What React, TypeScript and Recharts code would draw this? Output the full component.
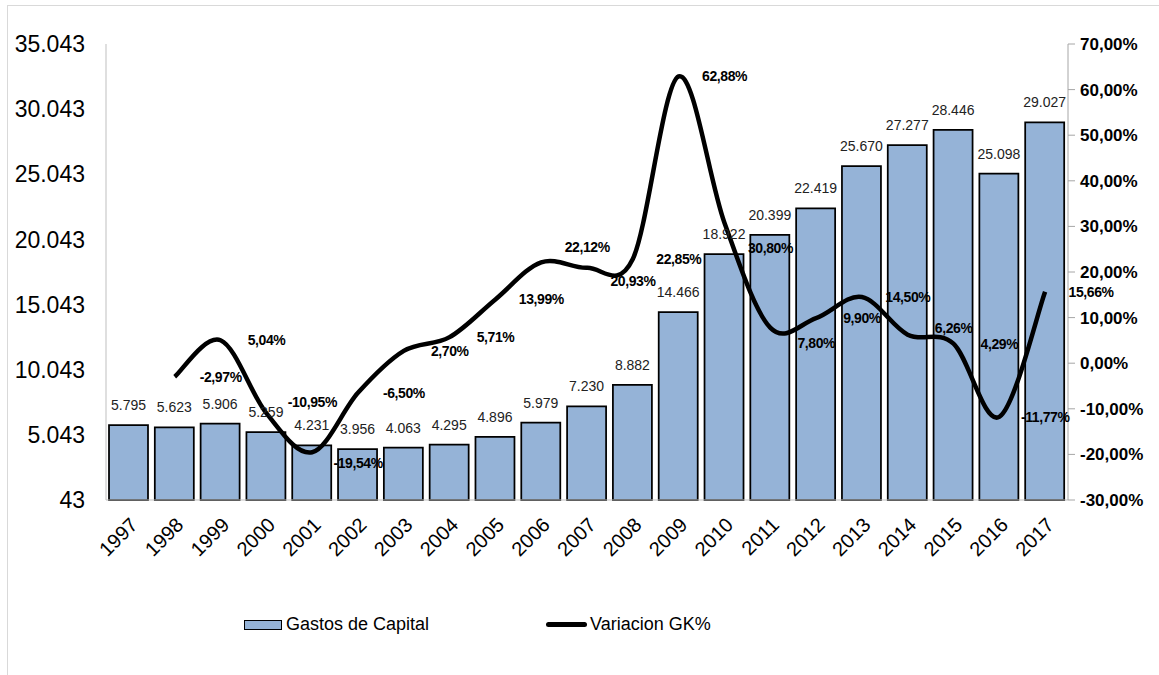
import { ComposedChart, Bar, Line, XAxis, YAxis, LabelList } from 'recharts';

// Serie histórica de Gastos de Capital y su variación interanual
const years = ['1997', '1998', '1999', '2000', '2001', '2002', '2003', '2004', '2005', '2006', '2007',
  '2008', '2009', '2010', '2011', '2012', '2013', '2014', '2015', '2016', '2017'];
const gastos = [5795, 5623, 5906, 5259, 4231, 3956, 4063, 4295, 4896, 5979, 7230,
  8882, 14466, 18922, 20399, 22419, 25670, 27277, 28446, 25098, 29027];
const variacion = [null, -2.97, 5.04, -10.95, -19.54, -6.5, 2.7, 5.71, 13.99, 22.12, 20.93,
  22.85, 62.88, 30.8, 7.8, 9.9, 14.5, 6.26, 4.29, -11.77, 15.66];
const leftTicks = [43, 5043, 10043, 15043, 20043, 25043, 30043, 35043];
const rightTicks = [-30, -20, -10, 0, 10, 20, 30, 40, 50, 60, 70];

// ajustes verticales de algunas etiquetas de la línea (como en el original)
const labelNudge: Record<string, number> = {
  '2000': -11, '2001': 11, '2006': -15, '2007': 13, '2010': 25, '2011': 15, '2014': -7,
};

const data = years.map((year, i) => ({ year, gastos: gastos[i], variacion: variacion[i] }));

const FONT = '"Liberation Sans", Arial, sans-serif';
const thousands = (n: number) => String(n).replace(/\B(?=(\d{3})+(?!\d))/g, '.');
const pct = (n: number) => n.toFixed(2).replace('.', ',') + '%';

// suavizado tipo Excel (Catmull-Rom)
const excelCurve = (context: any) => {
  let pts: number[][] = [];
  return {
    areaStart() {},
    areaEnd() {},
    lineStart() {
      pts = [];
    },
    point(x: number, y: number) {
      pts.push([+x, +y]);
    },
    lineEnd() {
      if (!pts.length) return;
      context.moveTo(pts[0][0], pts[0][1]);
      for (let i = 0; i < pts.length - 1; i++) {
        const p0 = pts[i - 1] || pts[i];
        const p1 = pts[i];
        const p2 = pts[i + 1];
        const p3 = pts[i + 2] || p2;
        context.bezierCurveTo(
          p1[0] + (p2[0] - p0[0]) / 6,
          p1[1] + (p2[1] - p0[1]) / 6,
          p2[0] - (p3[0] - p1[0]) / 6,
          p2[1] - (p3[1] - p1[1]) / 6,
          p2[0],
          p2[1]
        );
      }
    },
  };
};

const BarLabel = (props: any) => {
  const { x, y, width, value } = props;
  return (
    <text x={x + width / 2} y={y - 15} textAnchor="middle" fontSize={14} fill="#222" fontFamily={FONT}>
      {thousands(value)}
    </text>
  );
};

const LineLabel = (props: any) => {
  const { x, y, value, index } = props;
  if (value === null || value === undefined) return null;
  const dy = labelNudge[years[index]] || 0;
  return (
    <text x={x + 46} y={y + 5 + dy} textAnchor="middle" fontSize={14} fontWeight="bold" fill="#000"
      fontFamily={FONT} letterSpacing={-0.4}>
      {pct(value)}
    </text>
  );
};

export default function App() {
  return (
    <div style={{ position: 'absolute', left: 0, top: 0, width: 1159, height: 675, background: '#fff', fontFamily: FONT }}>
      <div style={{ position: 'absolute', left: 7, top: 5, right: 0, bottom: 0, borderLeft: '1px solid #d9d9d9', borderTop: '1px solid #d9d9d9' }} />
      <ComposedChart width={1159} height={675} data={data} margin={{ top: 44, right: 0, bottom: 0, left: 0 }}
        style={{ position: 'absolute', left: 0, top: 0 }}>
        <XAxis dataKey="year" height={175} stroke="#bfbfbf" tickLine={false} tickSize={0} tickMargin={16}
          interval={0} angle={-45} textAnchor="end"
          tick={{ fontSize: 20, fill: '#000', fontFamily: FONT }} />
        <YAxis yAxisId="left" width={106} domain={[43, 35043]} ticks={leftTicks} stroke="#bfbfbf"
          tickLine={false} tickSize={0} tickMargin={21} tickFormatter={thousands}
          tick={{ fontSize: 23, fill: '#000', fontFamily: FONT }} />
        <YAxis yAxisId="right" orientation="right" width={91} domain={[-30, 70]} ticks={rightTicks}
          stroke="#a6a6a6" tickSize={7} tickMargin={5} tickFormatter={(v: number) => pct(v)}
          tick={{ fontSize: 17, fontWeight: 'bold', fill: '#000', fontFamily: FONT }} />
        <Bar yAxisId="left" dataKey="gastos" barSize={39} fill="#95b3d7" stroke="#000" strokeWidth={1.75}
          isAnimationActive={false}>
          <LabelList dataKey="gastos" content={BarLabel} />
        </Bar>
        <Line yAxisId="right" dataKey="variacion" type={excelCurve as any} stroke="#000" strokeWidth={4.5}
          dot={false} activeDot={false} connectNulls={false} isAnimationActive={false}>
          <LabelList dataKey="variacion" content={LineLabel} />
        </Line>
      </ComposedChart>
      <div style={{ position: 'absolute', left: 244, top: 614, display: 'flex', alignItems: 'center', fontSize: 18, color: '#000' }}>
        <div style={{ width: 36, height: 8, background: '#95b3d7', border: '1.5px solid #000', marginRight: 4 }} />
        <span>Gastos de Capital</span>
      </div>
      <div style={{ position: 'absolute', left: 546, top: 614, display: 'flex', alignItems: 'center', fontSize: 18, color: '#000' }}>
        <div style={{ width: 41, height: 5, background: '#000', borderRadius: 3, marginRight: 3 }} />
        <span>Variacion GK%</span>
      </div>
    </div>
  );
}
